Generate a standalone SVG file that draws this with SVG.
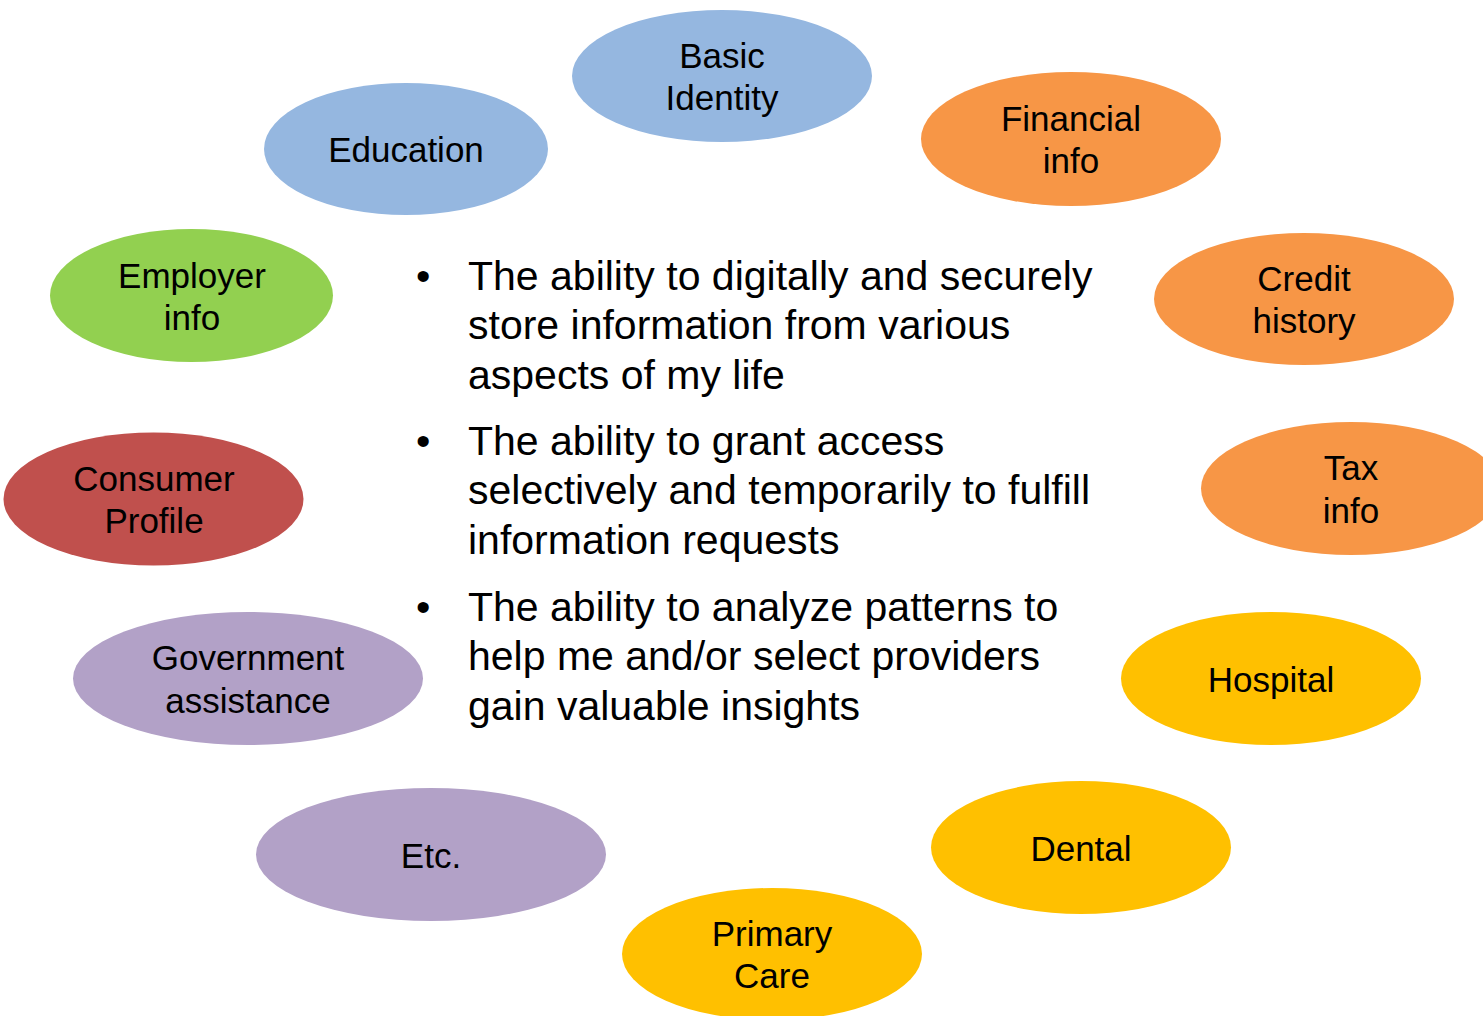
<svg xmlns="http://www.w3.org/2000/svg" width="1483" height="1016" viewBox="0 0 1483 1016">
<style>
text{font-family:"Liberation Sans",Arial,sans-serif;fill:#000}
.lbl{font-size:35px;text-anchor:middle}
.body{font-size:41px}
.blue{fill:#95B7E0}
.orange{fill:#F79646}
.green{fill:#92D050}
.red{fill:#C0504D}
.purple{fill:#B2A1C7}
.gold{fill:#FFC000}
</style>
<rect width="1483" height="1016" fill="#fff"/>
<g id="connectors"/>
<g id="basic-identity"><ellipse class="blue" cx="722" cy="76" rx="150" ry="66"/><text class="lbl" x="722" y="68">Basic</text><text class="lbl" x="722" y="110">Identity</text></g>
<g id="education"><ellipse class="blue" cx="406" cy="149" rx="142" ry="66"/><text class="lbl" x="406" y="162">Education</text></g>
<g id="financial-info"><ellipse class="orange" cx="1071" cy="139" rx="150" ry="67"/><text class="lbl" x="1071" y="131">Financial</text><text class="lbl" x="1071" y="173">info</text></g>
<g id="employer-info"><ellipse class="green" cx="191.5" cy="295.5" rx="141.5" ry="66.5"/><text class="lbl" x="192" y="288">Employer</text><text class="lbl" x="192" y="330">info</text></g>
<g id="credit-history"><ellipse class="orange" cx="1304" cy="299" rx="150" ry="66"/><text class="lbl" x="1304" y="291">Credit</text><text class="lbl" x="1304" y="333">history</text></g>
<g id="consumer-profile"><ellipse class="red" cx="153.5" cy="499" rx="150" ry="66.5"/><text class="lbl" x="154" y="491">Consumer</text><text class="lbl" x="154" y="533">Profile</text></g>
<g id="tax-info"><ellipse class="orange" cx="1351" cy="488.5" rx="150" ry="66.5"/><text class="lbl" x="1351" y="480">Tax</text><text class="lbl" x="1351" y="523">info</text></g>
<g id="government-assistance"><ellipse class="purple" cx="248" cy="678.5" rx="175" ry="66.5"/><text class="lbl" x="248" y="670">Government</text><text class="lbl" x="248" y="713">assistance</text></g>
<g id="hospital"><ellipse class="gold" cx="1271" cy="678.5" rx="150" ry="66.5"/><text class="lbl" x="1271" y="692">Hospital</text></g>
<g id="etc"><ellipse class="purple" cx="431" cy="854.5" rx="175" ry="66.5"/><text class="lbl" x="431" y="868">Etc.</text></g>
<g id="dental"><ellipse class="gold" cx="1081" cy="847.5" rx="150" ry="66.5"/><text class="lbl" x="1081" y="861">Dental</text></g>
<g id="primary-care"><ellipse class="gold" cx="772" cy="954" rx="150" ry="66"/><text class="lbl" x="772" y="946">Primary</text><text class="lbl" x="772" y="988">Care</text></g>
<g id="bullets">
<text class="body" x="416" y="290">•</text>
<text class="body" x="468" y="290">The ability to digitally and securely</text>
<text class="body" x="468" y="339">store information from various</text>
<text class="body" x="468" y="389">aspects of my life</text>
<text class="body" x="416" y="455">•</text>
<text class="body" x="468" y="455">The ability to grant access</text>
<text class="body" x="468" y="504">selectively and temporarily to fulfill</text>
<text class="body" x="468" y="554">information requests</text>
<text class="body" x="416" y="621">•</text>
<text class="body" x="468" y="621">The ability to analyze patterns to</text>
<text class="body" x="468" y="670">help me and/or select providers</text>
<text class="body" x="468" y="720">gain valuable insights</text>
</g>
</svg>
